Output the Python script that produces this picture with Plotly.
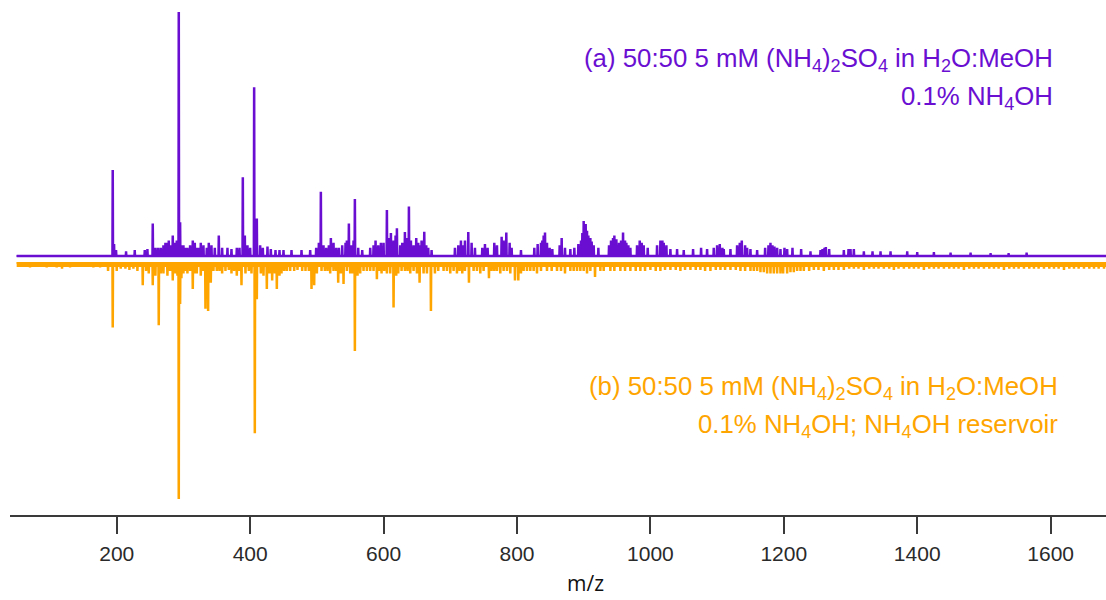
import plotly.graph_objects as go

# ---- data: (a) purple spectrum, relative intensity (%) ----
mz_a = [194, 196, 227, 242, 254, 262, 270, 276, 280, 284, 287, 293, 295, 300, 306, 314, 320, 326,
        338, 353, 366, 380, 389, 392, 406, 410, 415, 426, 438, 450, 462, 477, 490, 506, 510, 521,
        529, 538, 548, 552, 557, 562, 580, 588, 596, 605, 611, 620, 625, 632, 638, 649, 654, 661,
        667, 672, 707, 716, 719, 727, 732, 752, 766, 777, 784, 789, 806, 831, 836, 842, 845, 849,
        867, 872, 880, 892, 896, 900, 903, 907, 912, 922, 941, 944, 949, 953, 959, 964, 970, 984,
        990, 996, 1015, 1020, 1024, 1040, 1050, 1064, 1076, 1085, 1100, 1104, 1108, 1120, 1130,
        1137, 1142, 1150, 1160, 1172, 1180, 1186, 1195, 1201, 1213, 1226, 1240, 1258, 1263, 1268,
        1290, 1297, 1305, 1320, 1333, 1345, 1360, 1385, 1400, 1425, 1450, 1480, 1510, 1537, 1564]
int_a = [35, 4.5, 2, 2, 13, 3, 4, 5, 4, 8, 5, 100, 13.5, 4, 3, 6, 3, 5,
         5, 8, 3, 3, 32, 8, 69, 15, 4, 3.5, 2, 2, 2, 2, 2, 26, 4, 7,
         3, 4, 13, 4, 23, 3, 3, 6, 5, 18.5, 9, 11, 4, 9.5, 20, 7, 4, 9.6,
         3, 2, 3, 6, 4, 9.5, 5, 4.5, 5, 7.5, 9.3, 5, 2, 4.5, 5, 9.3, 5, 3,
         7, 3, 2.5, 4.5, 6, 14, 12.7, 8, 5.5, 3, 6, 7, 6.5, 5, 9.3, 5, 3, 6,
         4, 3, 6, 5, 4, 2.5, 2, 2.5, 3, 2.5, 4, 4.5, 3, 2.5, 4,
         6, 4, 2.5, 2, 3, 5, 3.5, 2.5, 3, 3, 2.5, 1.5, 2.5, 3.3, 2.5,
         2, 2.5, 2.5, 1.5, 1.5, 1.5, 1.5, 1.5, 1.2, 1.2, 1, 1, 0.8, 0.8, 1]
# minor peaks of (a)
mz_a_minor = [199, 214, 246, 258, 266, 273, 278, 282, 290, 297, 303, 310, 317, 323, 330, 335, 342,
              347, 358, 372, 384, 396, 400, 419, 431, 444, 499, 503, 514, 518, 525, 533, 543, 545,
              555, 568, 585, 592, 600, 608, 615, 618, 628, 635, 641, 645, 652, 657, 664, 712, 722,
              737, 748, 756, 770, 780, 792, 826, 838, 840, 853, 864, 886, 898, 905, 910, 915, 938,
              946, 956, 962, 967, 980, 987, 1010, 1018, 1030, 1095, 1110, 1134, 1145, 1177, 1183,
              1190, 1205, 1255, 1261, 1300]
int_a_minor = [2, 1.5, 2.5, 3, 3, 5, 6, 4, 6, 4, 3, 4, 5, 3, 4, 3, 4,
               3, 3, 2.5, 3, 4, 3, 3, 2.5, 2, 3, 5, 3, 4, 5, 3, 5, 6,
               6, 2, 4, 4, 5, 7, 6, 8, 5, 7, 6, 4, 5, 6, 4, 4, 6,
               3, 3, 3, 4, 6, 3, 3, 6, 8, 2.5, 4, 3, 9, 10, 7, 4, 4,
               8, 6, 6, 4, 4, 5, 4, 6, 2.5, 3, 2.5, 5, 3, 4, 4,
               3, 2.5, 2, 3, 2.5]

# ---- data: (b) orange spectrum, relative intensity (%) ----
mz_b = [110, 118, 150, 187, 194, 213, 225, 239, 248, 254, 258, 263, 270, 276, 284, 288, 293, 295,
        300, 306, 314, 320, 326, 333, 337, 341, 350, 358, 372, 380, 387, 393, 407, 410, 416, 425,
        433, 440, 447, 455, 466, 478, 492, 496, 500, 507, 520, 525, 532, 540, 550, 557, 565, 575,
        590, 597, 605, 615, 622, 632, 640, 654, 660, 671, 677, 690, 700, 710, 718, 728, 735, 745,
        758, 766, 775, 785, 797, 802, 810, 820, 830, 845, 860, 872, 880, 895, 905, 917, 925, 940,
        955, 970, 985, 1000, 1015, 1030, 1045, 1060, 1075, 1090, 1105, 1120, 1135, 1150, 1160,
        1170, 1180, 1190, 1199, 1210, 1220, 1230, 1245, 1260, 1275, 1290, 1305, 1320, 1335, 1350,
        1365, 1380, 1395, 1410, 1425, 1440, 1455, 1470, 1485, 1500, 1515, 1530, 1545, 1560, 1575,
        1590, 1605, 1620, 1635, 1650, 1665, 1680]
int_b = [1.5, 2, 1, 3, 27, 2, 2, 9, 4, 9, 5, 26, 4, 5, 7, 4, 100, 17,
         4, 4, 10.6, 4, 5, 19, 20, 8, 3, 4, 4, 5, 9, 4, 72, 15, 4, 10.6,
         7, 10.6, 4, 3, 3, 3, 10.6, 9, 4, 3, 4, 3, 8, 8.5, 4, 37, 4, 3,
         6.5, 4, 4, 18.5, 4, 3, 4, 8, 4, 20, 4, 3, 4, 4, 4, 8, 3, 4,
         6, 3, 4, 3, 7, 7, 3, 3, 4, 3, 3, 4, 3, 3, 4, 5.5, 3, 3,
         3, 3, 3, 2.5, 3, 2.5, 3, 2.5, 2.5, 3, 2.5, 2.5, 3, 3, 3,
         3.5, 4, 4, 4, 3.5, 3, 3, 2.5, 3, 2.5, 2.5, 2, 2.5, 2, 2,
         2.5, 2, 2, 2.5, 2, 2, 2, 2.5, 2, 2, 2, 2.5, 2, 2, 2,
         2, 2, 2.5, 2, 2, 2, 2]
# minor peaks / noise of (b)
mz_b_minor = [60, 70, 85, 95, 130, 140, 165, 175, 200, 206, 219, 231, 244, 266, 280, 291, 297, 303,
              310, 317, 329, 345, 354, 363, 368, 376, 383, 398, 402, 420, 429, 437, 444, 451, 460,
              471, 483, 488, 512, 516, 529, 536, 545, 553, 561, 570, 580, 585, 594, 601, 610, 619,
              627, 636, 645, 650, 665, 682, 695, 705, 714, 722, 740, 750, 762, 770, 780, 790, 806,
              815, 825, 836, 852, 866, 885, 890, 900, 910, 930, 946, 962, 978, 992, 1008, 1022,
              1038, 1052, 1068, 1082, 1098, 1112, 1128, 1142, 1155, 1165, 1175, 1185, 1195, 1205,
              1215, 1225, 1238, 1252, 1268, 1282, 1298, 1312, 1328, 1342, 1358, 1372, 1388, 1402,
              1418, 1432, 1448, 1462, 1478, 1492, 1508, 1522, 1538, 1552, 1568, 1582, 1598, 1612,
              1628, 1642, 1658, 1672, 1688]
int_b_minor = [1, 1.5, 1, 1.5, 1.5, 1, 1.5, 1.5, 3, 2, 2.5, 3, 3, 4, 3, 5, 6, 3,
               3, 4, 3, 3, 3, 3, 2.5, 3, 3, 3, 4, 5, 4, 4, 5, 3, 3,
               2.5, 3, 3, 3, 3, 3, 4, 3, 4, 5, 3, 3, 3, 3, 3, 4, 5,
               3, 3, 3, 4, 4, 3, 3, 3, 3, 3, 3, 3, 3, 3, 3, 4, 4,
               3, 3, 3, 3, 3, 3, 3, 3, 3, 3, 3, 3, 3, 3, 3, 2.5,
               2.5, 2.5, 2.5, 3, 2.5, 2.5, 2.5, 3, 3, 3.5, 4, 4, 4, 4,
               3.5, 3, 3, 2.5, 2.5, 2.5, 2, 2, 2, 2, 2, 2, 2, 2,
               2, 2, 2, 2, 2, 2, 2, 2, 2, 2, 2, 2, 2, 2,
               2, 2, 2, 2, 2]

mz_start, mz_end = 50, 1690
x_ticks = [200, 400, 600, 800, 1000, 1200, 1400, 1600]

PURPLE = "#6A0FD2"
ORANGE = "#FFA500"


def stick(mzs, ints):
    xs, ys = [mz_start], [0]
    for m, v in sorted(zip(mzs, ints)):
        xs += [m - 0.8, m - 0.4, m + 0.4, m + 0.8]
        ys += [0, v, v, 0]
    xs.append(mz_end)
    ys.append(0)
    return xs, ys


xa, ya = stick(mz_a + mz_a_minor, int_a + int_a_minor)
xb, yb = stick(mz_b + mz_b_minor, int_b + int_b_minor)

fig = go.Figure()
fig.add_trace(go.Scatter(x=[mz_start, mz_end], y=[0.6, 0.6], mode="lines", yaxis="y2",
                         line=dict(color=ORANGE, width=5), hoverinfo="skip", showlegend=False))
fig.add_trace(go.Scatter(x=xb, y=yb, mode="lines", yaxis="y2",
                         line=dict(color=ORANGE, width=2), showlegend=False))
fig.add_trace(go.Scatter(x=[mz_start, mz_end], y=[0, 0], mode="lines", yaxis="y",
                         line=dict(color=PURPLE, width=2.6), hoverinfo="skip", showlegend=False))
fig.add_trace(go.Scatter(x=xa, y=ya, mode="lines", yaxis="y",
                         line=dict(color=PURPLE, width=2), showlegend=False))

txt_font = dict(family="Liberation Sans, Arial, sans-serif", size=25.8)
annos = [
    dict(text="(a) 50:50 5 mM (NH<sub>4</sub>)<sub>2</sub>SO<sub>4</sub> in H<sub>2</sub>O:MeOH",
         x=0.9535, y=0.883, color=PURPLE),
    dict(text="0.1% NH<sub>4</sub>OH", x=0.9535, y=0.81, color=PURPLE),
    dict(text="(b) 50:50 5 mM (NH<sub>4</sub>)<sub>2</sub>SO<sub>4</sub> in H<sub>2</sub>O:MeOH",
         x=0.958, y=0.247, color=ORANGE),
    dict(text="0.1% NH<sub>4</sub>OH; NH<sub>4</sub>OH reservoir", x=0.958, y=0.172, color=ORANGE),
]
annotations = []
for a in annos:
    annotations.append(dict(text=a["text"], x=a["x"], y=a["y"], xref="paper", yref="paper",
                            xanchor="right", yanchor="middle", showarrow=False,
                            font=dict(txt_font, color=a["color"])))
annotations.append(dict(text="m/z", x=(585 - 10) / 1096, y=-0.132, xref="paper", yref="paper",
                        xanchor="center", yanchor="middle", showarrow=False,
                        font=dict(family="Open Sans, sans-serif", size=21, color="#111")))

fig.update_layout(
    width=1106, height=600,
    margin=dict(l=10, r=0, t=0, b=85),
    paper_bgcolor="white", plot_bgcolor="white",
    showlegend=False,
    xaxis=dict(range=[40, 1683], tickvals=x_ticks, ticks="outside", ticklen=17, tickwidth=2,
               tickcolor="#3a3a3a", showline=True, linecolor="#3a3a3a", linewidth=2,
               showgrid=False, zeroline=False, ticklabelstandoff=2,
               tickfont=dict(family="Liberation Sans, Arial, sans-serif", size=21, color="#2a2a2a")),
    yaxis=dict(range=[-106.6, 105.35], visible=False, showgrid=False, zeroline=False),
    yaxis2=dict(range=[107.2, -111.9], overlaying="y", visible=False, showgrid=False,
                zeroline=False),
    annotations=annotations,
)

fig.write_html("out.html")
